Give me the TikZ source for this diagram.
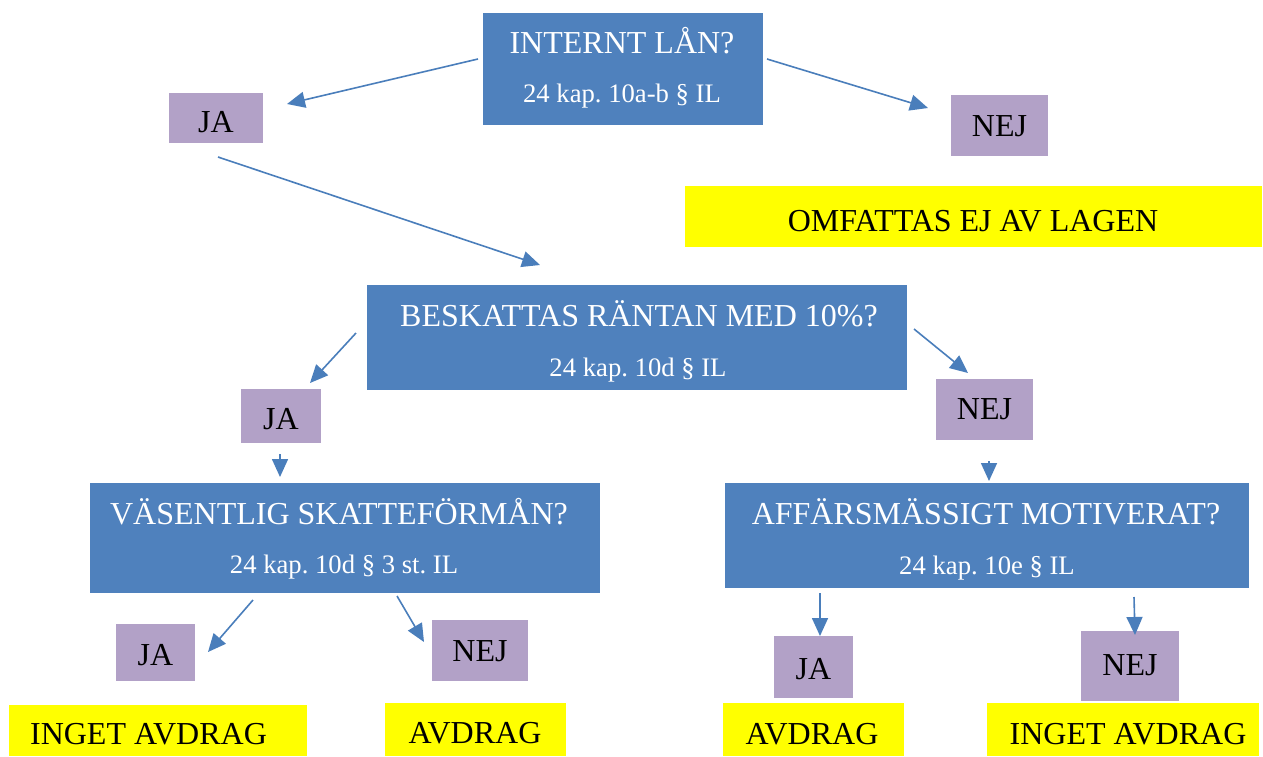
\documentclass[tikz,border=0pt]{standalone}
\usepackage{fontspec}
\setmainfont{Liberation Serif}
\usetikzlibrary{arrows.meta}
\definecolor{qblue}{HTML}{4F81BD}
\definecolor{qpurple}{HTML}{B2A1C7}
\definecolor{qline}{HTML}{4A7EBB}
\definecolor{qyellow}{HTML}{FFFF00}
\frenchspacing
\begin{document}
\begin{tikzpicture}[x=1pt,y=-1pt,
  qbox/.style={fill=qblue,inner sep=0pt,outer sep=0pt},
  ansbox/.style={fill=qpurple,inner sep=0pt,outer sep=0pt},
  resbox/.style={fill=qyellow,inner sep=0pt,outer sep=0pt},
  qtitle/.style={anchor=base,text=white,font=\fontsize{32}{38}\selectfont,inner sep=0pt},
  qsub/.style={anchor=base,text=white,font=\fontsize{26.67}{32}\selectfont,inner sep=0pt},
  atext/.style={anchor=base,text=black,font=\fontsize{32}{38}\selectfont,inner sep=0pt},
  conn/.style={draw=qline,line width=1.6pt,-{Triangle[length=18pt,width=16pt]}}]
\useasboundingbox (0,0) rectangle (1263,756);
\clip (0,0) rectangle (1263,756);

% question boxes
\node[qbox,minimum width=280pt,minimum height=112pt] (q1) at (623,69) {};
\node[qtitle] (q1t) at (622,53) {INTERNT LÅN?};
\node[qsub] (q1s) at (622,102.5) {24 kap. 10a-b § IL};

\node[qbox,minimum width=540pt,minimum height=105pt] (q2) at (637,337.5) {};
\node[qtitle] (q2t) at (639,326) {BESKATTAS RÄNTAN MED 10\%?};
\node[qsub] (q2s) at (638,376) {24 kap. 10d § IL};

\node[qbox,minimum width=510pt,minimum height=110pt] (q3) at (345,538) {};
\node[qtitle] (q3t) at (339,524) {VÄSENTLIG SKATTEFÖRMÅN?};
\node[qsub] (q3s) at (344,573) {24 kap. 10d § 3 st. IL};

\node[qbox,minimum width=524pt,minimum height=105pt] (q4) at (987,535.5) {};
\node[qtitle] (q4t) at (986,524) {AFFÄRSMÄSSIGT MOTIVERAT?};
\node[qsub] (q4s) at (987,574) {24 kap. 10e § IL};

% answer boxes
\node[ansbox,minimum width=94pt,minimum height=50pt] (ja1) at (216,118) {};
\node[atext] (ja1t) at (216,132) {JA};
\node[ansbox,minimum width=97pt,minimum height=61pt] (nej1) at (999.5,125.5) {};
\node[atext] (nej1t) at (999.5,136) {NEJ};
\node[ansbox,minimum width=80pt,minimum height=54pt] (ja2) at (281,416) {};
\node[atext] (ja2t) at (281,429) {JA};
\node[ansbox,minimum width=97pt,minimum height=61pt] (nej2) at (984.5,409.5) {};
\node[atext] (nej2t) at (984.5,419) {NEJ};
\node[ansbox,minimum width=79pt,minimum height=57pt] (ja3) at (155.5,652.5) {};
\node[atext] (ja3t) at (155.5,665) {JA};
\node[ansbox,minimum width=96pt,minimum height=61pt] (nej3) at (480,650.5) {};
\node[atext] (nej3t) at (480,661) {NEJ};
\node[ansbox,minimum width=79pt,minimum height=62pt] (ja4) at (813.5,667) {};
\node[atext] (ja4t) at (813.5,679) {JA};
\node[ansbox,minimum width=98pt,minimum height=70pt] (nej4) at (1130,666) {};
\node[atext] (nej4t) at (1130,675) {NEJ};

% result boxes
\node[resbox,minimum width=577pt,minimum height=61pt] (r0) at (973.5,216.5) {};
\node[atext] (r0t) at (973,231) {OMFATTAS EJ AV LAGEN};
\node[resbox,minimum width=298pt,minimum height=51pt] (r1) at (158,730.5) {};
\node[atext] (r1t) at (148.5,744) {INGET AVDRAG};
\node[resbox,minimum width=181pt,minimum height=53pt] (r2) at (475.5,729.5) {};
\node[atext] (r2t) at (475,743) {AVDRAG};
\node[resbox,minimum width=181pt,minimum height=53pt] (r3) at (813.5,729.5) {};
\node[atext] (r3t) at (812,744) {AVDRAG};
\node[resbox,minimum width=272pt,minimum height=53pt] (r4) at (1123,729.5) {};
\node[atext] (r4t) at (1128,744) {INGET AVDRAG};

% connector end points
\coordinate (a1s) at (478,59);   \coordinate (a1e) at (287,104);
\coordinate (a2s) at (767,59);   \coordinate (a2e) at (928,108);
\coordinate (a3s) at (218,157);  \coordinate (a3e) at (540,265);
\coordinate (a4s) at (356,333);  \coordinate (a4e) at (310,383);
\coordinate (a5s) at (914,329);  \coordinate (a5e) at (968,373);
\coordinate (a6s) at (280,454);  \coordinate (a6e) at (280,477);
\coordinate (a7s) at (989,461);  \coordinate (a7e) at (989,481);
\coordinate (a8s) at (253,600);  \coordinate (a8e) at (208,652);
\coordinate (a9s) at (397,596);  \coordinate (a9e) at (424,642);
\coordinate (a10s) at (820,593); \coordinate (a10e) at (820,636);
\coordinate (a11s) at (1134,597);\coordinate (a11e) at (1135,635);

\foreach \i in {1,...,11} {\draw[conn] (a\i s) -- (a\i e);}
\end{tikzpicture}
\end{document}
